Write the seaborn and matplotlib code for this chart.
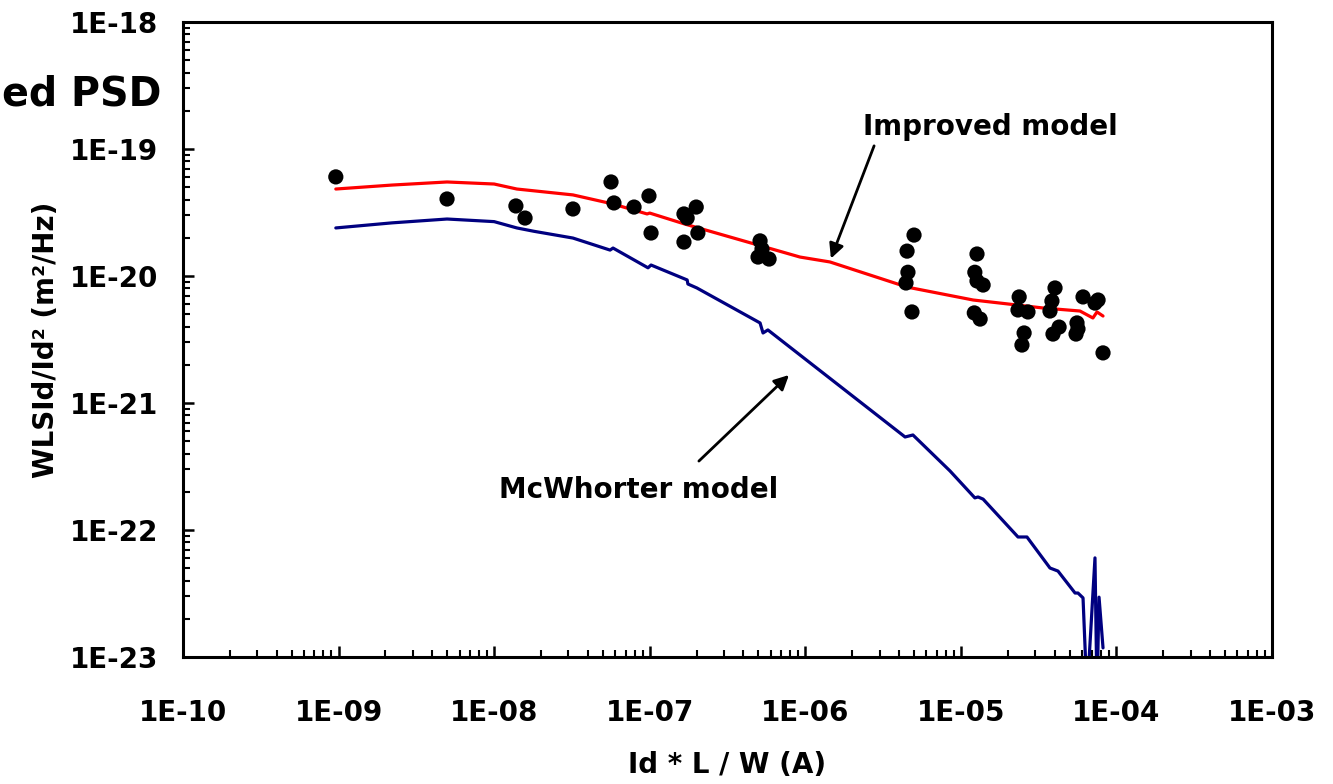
import numpy as np
import pandas as pd
import matplotlib
matplotlib.use("Agg")
import matplotlib.pyplot as plt
import matplotlib.ticker as mticker
import seaborn as sns

# ---- measured data points ----
meas_x = [9.6e-10, 4.98e-9, 1.38e-8, 1.58e-8, 3.21e-8, 5.64e-8, 5.89e-8, 7.93e-8, 9.89e-8, 1.02e-7,
          1.66e-7, 1.74e-7, 1.99e-7, 2.04e-7, 1.66e-7, 5.12e-7, 5.27e-7, 4.97e-7, 5.85e-7,
          5.00e-6, 4.51e-6, 4.57e-6, 4.44e-6, 4.85e-6,
          1.27e-5, 1.23e-5, 1.27e-5, 1.39e-5, 1.22e-5, 1.33e-5,
          2.37e-5, 2.33e-5, 2.70e-5, 2.55e-5, 2.47e-5,
          4.03e-5, 3.85e-5, 3.74e-5, 4.28e-5, 3.91e-5,
          6.10e-5, 5.58e-5, 5.66e-5, 5.50e-5, 7.62e-5, 7.28e-5, 8.20e-5]
meas_y = [6.03e-20, 4.04e-20, 3.56e-20, 2.86e-20, 3.37e-20, 5.50e-20, 3.76e-20, 3.49e-20, 4.27e-20, 2.18e-20,
          3.08e-20, 2.86e-20, 3.49e-20, 2.18e-20, 1.85e-20, 1.89e-20, 1.63e-20, 1.41e-20, 1.36e-20,
          2.10e-20, 1.57e-20, 1.07e-20, 8.81e-21, 5.21e-21,
          1.49e-20, 1.07e-20, 9.14e-21, 8.49e-21, 5.12e-21, 4.58e-21,
          6.84e-21, 5.40e-21, 5.21e-21, 3.56e-21, 2.86e-21,
          8.05e-21, 6.35e-21, 5.30e-21, 3.96e-21, 3.49e-21,
          6.84e-21, 4.27e-21, 3.83e-21, 3.49e-21, 6.47e-21, 6.12e-21, 2.48e-21]

# ---- improved model (red) ----
imp_x = [9.6e-10, 2.2e-9, 4.98e-9, 1.0e-8, 1.40e-8, 3.21e-8, 5.81e-8, 9.62e-8, 1.00e-7, 1.69e-7,
         9.25e-7, 1.44e-6, 4.51e-6, 1.20e-5, 1.79e-5, 3.37e-5, 5.83e-5, 7.06e-5, 7.50e-5, 8.20e-5]
imp_y = [4.84e-20, 5.20e-20, 5.50e-20, 5.30e-20, 4.84e-20, 4.35e-20, 3.69e-20, 3.08e-20, 3.13e-20, 2.56e-20,
         1.41e-20, 1.29e-20, 8.18e-21, 6.47e-21, 6.12e-21, 5.60e-21, 5.30e-21, 4.67e-21, 5.21e-21, 4.84e-21]

# ---- McWhorter model (navy) ----
mcw_x = [9.6e-10, 2.2e-9, 4.98e-9, 1.0e-8, 1.40e-8, 1.8e-8, 3.21e-8, 5.56e-8, 5.81e-8, 9.75e-8,
         1.02e-7, 1.74e-7, 1.76e-7, 2.01e-7, 5.12e-7, 5.35e-7, 5.75e-7, 4.38e-6, 4.92e-6, 8.51e-6,
         1.23e-5, 1.29e-5, 1.39e-5, 2.33e-5, 2.66e-5, 3.74e-5, 4.21e-5, 5.42e-5, 5.66e-5, 6.10e-5,
         6.47e-5, 7.28e-5, 7.50e-5, 7.73e-5, 8.20e-5]
mcw_y = [2.39e-20, 2.62e-20, 2.81e-20, 2.68e-20, 2.39e-20, 2.25e-20, 1.99e-20, 1.60e-20, 1.66e-20, 1.16e-20,
         1.22e-20, 9.31e-21, 8.65e-21, 8.05e-21, 4.27e-21, 3.56e-21, 3.76e-21, 5.40e-22, 5.60e-22, 2.92e-22,
         1.79e-22, 1.82e-22, 1.75e-22, 8.81e-23, 8.81e-23, 5.02e-23, 4.75e-23, 3.19e-23, 3.19e-23, 2.92e-23,
         5.0e-24, 6.03e-23, 5.0e-24, 2.96e-23, 1.18e-23]

x_ticks = [1e-10, 1e-9, 1e-8, 1e-7, 1e-6, 1e-5, 1e-4, 1e-3]
y_ticks = [1e-23, 1e-22, 1e-21, 1e-20, 1e-19, 1e-18]

sns.set_theme(style="white")
plt.rcParams['font.family'] = ['DejaVu Sans']
plt.rcParams['font.weight'] = 'bold'
plt.rcParams['text.color'] = 'black'
plt.rcParams['axes.labelcolor'] = 'black'
plt.rcParams['xtick.color'] = 'black'
plt.rcParams['ytick.color'] = 'black'

W, H = 1333, 784
fig = plt.figure(figsize=(W / 100, H / 100), dpi=100)
ax = fig.add_axes([183 / W, 1 - 657 / H, (1272 - 183) / W, (657 - 22) / H])

df_meas = pd.DataFrame({"x": meas_x, "y": meas_y})
df_imp = pd.DataFrame({"x": imp_x, "y": imp_y})
df_mcw = pd.DataFrame({"x": mcw_x, "y": mcw_y})

sns.lineplot(data=df_mcw, x="x", y="y", ax=ax, color="#000080", linewidth=2.3,
             sort=False, estimator=None)
sns.lineplot(data=df_imp, x="x", y="y", ax=ax, color="#FF0000", linewidth=2.3,
             sort=False, estimator=None)
sns.scatterplot(data=df_meas, x="x", y="y", ax=ax, color="black", s=120,
                edgecolor="none", zorder=5)

ax.set_xscale("log")
ax.set_yscale("log")
ax.set_xlim(1e-10, 1e-3)
ax.set_ylim(1e-23, 1e-18)

def fmt(v, pos):
    e = int(round(np.log10(v)))
    return f"1E{e:03d}"

ax.xaxis.set_major_locator(mticker.FixedLocator(x_ticks))
ax.yaxis.set_major_locator(mticker.FixedLocator(y_ticks))
ax.xaxis.set_major_formatter(mticker.FuncFormatter(fmt))
ax.yaxis.set_major_formatter(mticker.FuncFormatter(fmt))
ax.xaxis.set_minor_locator(mticker.LogLocator(base=10, subs=np.arange(2, 10), numticks=20))
ax.yaxis.set_minor_locator(mticker.LogLocator(base=10, subs=np.arange(2, 10), numticks=20))
ax.xaxis.set_minor_formatter(mticker.NullFormatter())
ax.yaxis.set_minor_formatter(mticker.NullFormatter())

for s in ax.spines.values():
    s.set_visible(True)
    s.set_color("black")
    s.set_linewidth(2.2)

ax.tick_params(axis="both", which="major", direction="in", length=8, width=1.8,
               colors="black", labelsize=20, left=True, bottom=True)
ax.tick_params(axis="both", which="minor", direction="in", length=5, width=1.5,
               colors="black", left=True, bottom=True)
ax.tick_params(axis="x", which="major", pad=30)
ax.tick_params(axis="y", which="major", pad=18)
for lab in ax.get_xticklabels() + ax.get_yticklabels():
    lab.set_fontweight("bold")
    lab.set_color("black")

ax.set_xlabel("Id * L / W (A)", fontsize=20, fontweight="bold", color="black")
ax.set_ylabel("WLSId/Id² (m²/Hz)", fontsize=20, fontweight="bold", color="black")
ax.xaxis.set_label_coords(0.5, -0.148)
ax.yaxis.set_label_coords(-0.113, 0.5)

ax.grid(False)

# annotations
ax.annotate("", xy=(1.44e-6, 1.31e-20), xytext=(2.81e-6, 1.11e-19),
            arrowprops=dict(arrowstyle="-|>", color="black", lw=2, mutation_scale=22))
ax.annotate("", xy=(8.09e-7, 1.72e-21), xytext=(2.01e-7, 3.37e-22),
            arrowprops=dict(arrowstyle="-|>", color="black", lw=2, mutation_scale=22))
ax.text(0.741, 0.835, "Improved model", transform=ax.transAxes, ha="center", va="center",
        fontsize=20, fontweight="bold", color="black")
ax.text(0.418, 0.263, "McWhorter model", transform=ax.transAxes, ha="center", va="center",
        fontsize=20, fontweight="bold", color="black")

fig.text(2 / W, 1 - 95 / H, "ed PSD", ha="left", va="center",
         fontsize=28.5, fontweight="bold", color="black")

fig.savefig("out.png", dpi=100)
